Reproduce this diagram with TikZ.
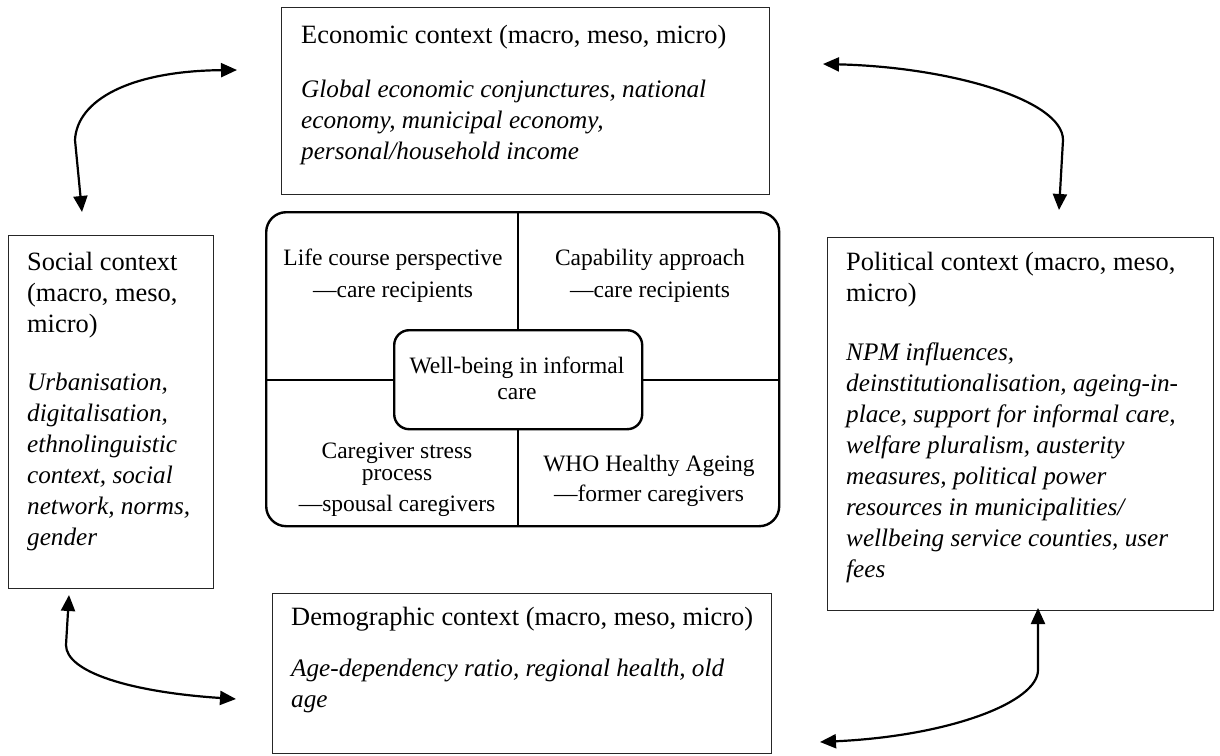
\documentclass[tikz,border=0pt]{standalone}
\usepackage{fontspec}
\setmainfont{Liberation Serif}
\usetikzlibrary{arrows.meta}
\begin{document}
\begin{tikzpicture}[x=1pt,y=-1pt,
  ctx/.style={draw=black!85, line width=1.3pt, inner sep=0pt, anchor=north west},
  rbox/.style={draw=black, line width=2.4pt, inner sep=0pt, anchor=north west},
  hd/.style={anchor=base west, align=left, inner sep=0pt, font=\fontsize{26.4}{31}\selectfont},
  it/.style={anchor=base west, align=left, inner sep=0pt, font=\fontsize{25.2}{31}\selectfont\itshape},
  qt/.style={anchor=base, align=center, inner sep=0pt, font=\fontsize{23.5}{24}\selectfont},
  conn/.style={line width=2.2pt, {Triangle[length=16pt,width=14pt]}-{Triangle[length=16pt,width=14pt]}},
]
\useasboundingbox (0,0) rectangle (1220,755);
% context boxes
\node[ctx, minimum width=488pt, minimum height=187pt] (econ) at (281,7) {};
\node[ctx, minimum width=205pt, minimum height=353pt] (social) at (8,235) {};
\node[ctx, minimum width=386pt, minimum height=373pt] (pol) at (827,237) {};
\node[ctx, minimum width=499pt, minimum height=160pt] (demo) at (272,593) {};
% central frame
\node[rbox, rounded corners=20pt, minimum width=513pt, minimum height=314pt] (central) at (265,211) {};
\node[rbox, rounded corners=15pt, minimum width=248pt, minimum height=99pt, fill=white] (inner) at (393,329) {};
\draw[line width=2.2pt] (inner.north) -- (inner.north |- central.north);
\draw[line width=2.2pt] (inner.south) -- (inner.south |- central.south);
\draw[line width=2.2pt] (inner.west) -- (inner.west -| central.west);
\draw[line width=2.2pt] (inner.east) -- (inner.east -| central.east);
% texts (anchor = baseline of the last line)
\node[hd] (econT) at (301,43) {Economic context (macro, meso, micro)};
\node[it] (econI) at (301,159) {Global economic conjunctures, national\\economy, municipal economy,\\personal/household income};
\node[hd] (socT) at (27,332) {Social context\\(macro, meso,\\micro)};
\node[it] (socI) at (27,545) {Urbanisation,\\digitalisation,\\ethnolinguistic\\context, social\\network, norms,\\gender};
\node[hd] (polT) at (846,301) {Political context (macro, meso,\\micro)};
\node[it] (polI) at (846,577) {NPM influences,\\deinstitutionalisation, ageing-in-\\place, support for informal care,\\welfare pluralism, austerity\\measures, political power\\resources in municipalities/\\wellbeing service counties, user\\fees};
\node[hd] (demT) at (291,625) {Demographic context (macro, meso, micro)};
\node[it] (demI) at (291,707) {Age-dependency ratio, regional health, old\\age};
\node[qt] (life) at (393,297) {Life course perspective\\[8pt]—care recipients};
\node[qt] (capa) at (650,297) {Capability approach\\[8pt]—care recipients};
\node[qt] (wb) at (517,399) {Well-being in informal\\[2pt]care};
\node[qt] (cgs) at (397,511) {Caregiver stress\\[-1.5pt]process\\[6.5pt]—spousal caregivers};
\node[qt] (who) at (649,501) {WHO Healthy Ageing\\[6pt]—former caregivers};
% connectors
\coordinate (a1e) at (237,70);
\coordinate (a1s) at (82,212);
\coordinate (a2e) at (823,64);
\coordinate (a2s) at (1059,210);
\coordinate (a3s) at (69,595);
\coordinate (a3e) at (236,699);
\coordinate (a4s) at (1038,608);
\coordinate (a4e) at (820,742);
\draw[conn] (a1s) -- (75,140) .. controls (77,100) and (130,71) .. (a1e);
\draw[conn] (a2e) .. controls (950,67) and (1063,100) .. (1063,140) -- (a2s);
\draw[conn] (a3s) -- (66,645) .. controls (66,672) and (130,692) .. (a3e);
\draw[conn] (a4s) -- (1038,670) .. controls (1038,702) and (950,736) .. (a4e);
\end{tikzpicture}
\end{document}
